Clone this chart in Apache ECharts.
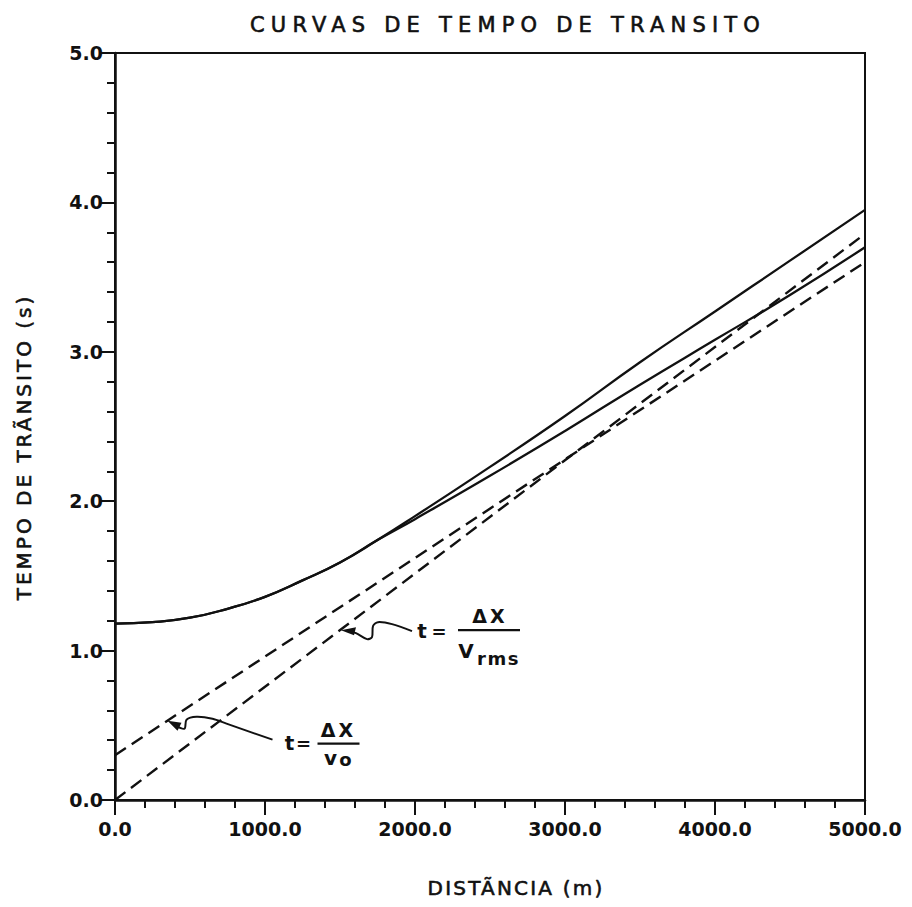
<!DOCTYPE html>
<html>
<head>
<meta charset="utf-8">
<script src="https://cdn.jsdelivr.net/npm/echarts@6/dist/echarts.min.js"></script>
<style>
html,body{margin:0;padding:0;background:#fff;}
#chart{width:912px;height:907px;}
</style>
</head>
<body>
<div id="chart"></div>
<script>
// ---- data ----
const distance = [0, 250, 500, 750, 1000, 1250, 1500, 1750, 2000, 2500, 3000, 3500, 4000, 4500, 5000];
const tUpper   = [1.18, 1.19, 1.22, 1.28, 1.36, 1.47, 1.59, 1.74, 1.90, 2.23, 2.57, 2.93, 3.27, 3.61, 3.95];
const tLower   = [1.18, 1.19, 1.22, 1.28, 1.36, 1.47, 1.59, 1.74, 1.88, 2.17, 2.47, 2.78, 3.08, 3.38, 3.70];
const lineDistance = [0, 5000];
const tVrms = [0.00, 3.79];
const tV0   = [0.30, 3.60];
const xTickValues = [0, 1000, 2000, 3000, 4000, 5000];
const xTickLabels = ['0.0', '1000.0', '2000.0', '3000.0', '4000.0', '5000.0'];
const yTickValues = [0, 1, 2, 3, 4, 5];
const yTickLabels = ['0.0', '1.0', '2.0', '3.0', '4.0', '5.0'];
const titleText = 'CURVAS DE TEMPO DE TRANSITO';
const xName = 'DISTÃNCIA (m)';
const yName = 'TEMPO DE TRÃNSITO (s)';
const vrmsArrowDistance = 1500;
const v0ArrowDistance = 350;

const INK = '#111';
const SANS = "'DejaVu Sans', sans-serif";

const pairs = (xs, ys) => xs.map((x, i) => [x, ys[i]]);
const onLine = (ys, x) => ys[0] + (ys[1] - ys[0]) * (x - lineDistance[0]) / (lineDistance[1] - lineDistance[0]);

const chart = echarts.init(document.getElementById('chart'), null, {renderer: 'svg'});

const solid = {type: 'line', symbol: 'none', smooth: 0.5,
  lineStyle: {color: INK, width: 2.3}, silent: true};
const dashed = {type: 'line', symbol: 'none',
  lineStyle: {color: INK, width: 2.4, type: [13, 7]}, silent: true};

chart.setOption({
  animation: false,
  backgroundColor: '#fff',
  title: {
    text: titleText, left: 503, top: 9, textAlign: 'center',
    textStyle: {fontFamily: SANS, fontSize: 21, fontWeight: 'normal', color: INK,
      textBorderColor: INK, textBorderWidth: 0.6}
  },
  grid: {left: 115, right: 47, top: 53, bottom: 107, show: true, borderColor: INK, borderWidth: 2},
  xAxis: {
    type: 'value', min: 0, max: 5000, interval: 1000,
    axisLine: {show: true, lineStyle: {color: INK, width: 2.5}},
    axisTick: {show: true, length: 15, lineStyle: {color: INK, width: 2}},
    minorTick: {show: true, splitNumber: 5, length: 8, lineStyle: {color: INK, width: 2}},
    splitLine: {show: false},
    axisLabel: {margin: 19, color: INK, fontFamily: SANS, fontWeight: 'bold', fontSize: 19,
      formatter: v => xTickLabels[xTickValues.indexOf(v)]}
  },
  yAxis: {
    type: 'value', min: 0, max: 5, interval: 1,
    axisLine: {show: true, lineStyle: {color: INK, width: 2.5}},
    axisTick: {show: true, length: 15, lineStyle: {color: INK, width: 2}},
    minorTick: {show: true, splitNumber: 5, length: 8, lineStyle: {color: INK, width: 2}},
    splitLine: {show: false},
    axisLabel: {margin: 12, color: INK, fontFamily: SANS, fontWeight: 'bold', fontSize: 19,
      formatter: v => yTickLabels[yTickValues.indexOf(v)]}
  },
  series: [
    Object.assign({name: 'tUpper', data: pairs(distance, tUpper)}, solid),
    Object.assign({name: 'tLower', data: pairs(distance, tLower)}, solid),
    Object.assign({name: 't = ΔX / Vrms', data: pairs(lineDistance, tVrms)}, dashed),
    Object.assign({name: 't = ΔX / v0', data: pairs(lineDistance, tV0)}, dashed)
  ]
});

function txt(x, y, text, size, extra) {
  return Object.assign({type: 'text', x: x, y: y, silent: true,
    style: Object.assign({text: text, fill: INK, font: 'bold ' + size + 'px ' + SANS,
      align: 'center', verticalAlign: 'middle'}, (extra || {}))});
}

function annotations() {
  const a = chart.convertToPixel({gridIndex: 0}, [vrmsArrowDistance, onLine(tVrms, vrmsArrowDistance)]);
  const b = chart.convertToPixel({gridIndex: 0}, [v0ArrowDistance, onLine(tV0, v0ArrowDistance)]);
  const rel = (p, pts) => pts.map(q => [p[0] + q[0], p[1] + q[1]]);
  const els = [];
  // Vrms pointer
  els.push({type: 'polyline', silent: true, shape: {smooth: 0.3, points: rel(a, [[8,1],[16,3],[27,9],[32,7],[33,-4],[38,-8],[52,-6],[72,1]])},
    style: {stroke: INK, lineWidth: 2, fill: null}});
  els.push({type: 'polygon', silent: true, shape: {points: rel(a, [[1,0],[16,-3],[14,5]])}, style: {fill: INK}});
  els.push(txt(a[0] + 82, a[1] + 1, 't', 20));
  els.push(txt(a[0] + 99, a[1] + 1, '=', 18));
  els.push(txt(a[0] + 150, a[1] - 14, 'ΔX', 19));
  els.push({type: 'line', silent: true, shape: {x1: a[0] + 118, y1: a[1] + 0, x2: a[0] + 180, y2: a[1] + 0}, style: {stroke: INK, lineWidth: 2.2}});
  els.push(txt(a[0] + 126, a[1] + 21, 'V', 20));
  els.push(txt(a[0] + 137, a[1] + 28, 'rms', 18, {align: 'left'}));
  // v0 pointer
  els.push({type: 'polyline', silent: true, shape: {smooth: 0.3, points: rel(b, [[8,5],[17,8],[19,-1],[29,-4],[45,-2],[59,3],[105,19]])},
    style: {stroke: INK, lineWidth: 2, fill: null}});
  els.push({type: 'polygon', silent: true, shape: {points: rel(b, [[0,0],[14,2],[10,10]])}, style: {fill: INK}});
  els.push(txt(b[0] + 122, b[1] + 22, 't', 20));
  els.push(txt(b[0] + 136, b[1] + 23, '=', 18));
  els.push(txt(b[0] + 171, b[1] + 9, 'ΔX', 19));
  els.push({type: 'line', silent: true, shape: {x1: b[0] + 150, y1: b[1] + 23, x2: b[0] + 192, y2: b[1] + 23}, style: {stroke: INK, lineWidth: 2.2}});
  els.push(txt(b[0] + 163, b[1] + 37, 'v', 20));
  els.push(txt(b[0] + 178, b[1] + 39, 'o', 18));
  // axis names
  const nameStyle = {font: '20px ' + SANS, stroke: INK, lineWidth: 0.6};
  els.push(txt(516, 888, xName, 20, nameStyle));
  els.push(Object.assign(txt(24, 447, yName, 20, nameStyle), {rotation: Math.PI / 2}));
  return els;
}

chart.setOption({graphic: annotations()});

const spacing = {};
spacing[titleText] = '6.2px';
spacing[xName] = '2.2px';
spacing[yName] = '3px';
spacing['ΔX'] = '3px';
spacing['rms'] = '1.5px';
function applySpacing() {
  document.querySelectorAll('#chart svg text').forEach(t => {
    const s = t.textContent;
    if (spacing[s]) t.setAttribute('letter-spacing', spacing[s]);
  });
}
applySpacing();
chart.on('finished', applySpacing);
</script>
</body>
</html>
